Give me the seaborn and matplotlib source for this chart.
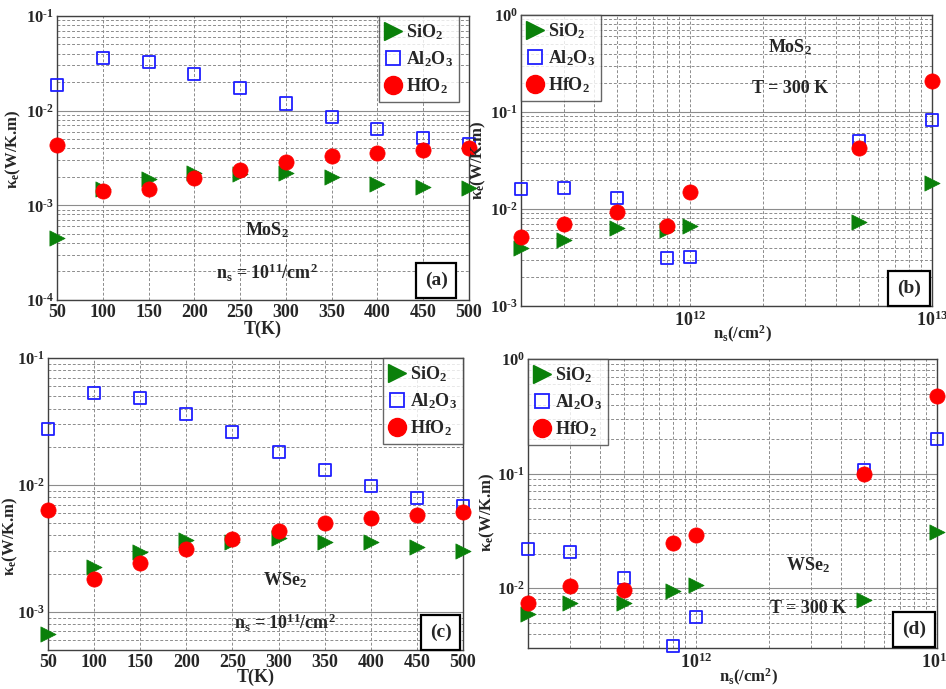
import numpy as np
import pandas as pd
import matplotlib
matplotlib.use("Agg")
import matplotlib.pyplot as plt
import seaborn as sns
from matplotlib.ticker import LogLocator, FixedLocator, NullFormatter, FuncFormatter
from matplotlib.lines import Line2D

# ---------------- data ----------------
T_K = [50, 100, 150, 200, 250, 300, 350, 400, 450, 500]
ns = [2e11, 3e11, 5e11, 8e11, 1e12, 5e12, 1e13]

# (a) MoS2 vs T, ns = 1e11
a_sio2 = [4.5e-4, 1.5e-3, 1.91e-3, 2.2e-3, 2.16e-3, 2.2e-3, 1.99e-3, 1.7e-3, 1.55e-3, 1.52e-3]
a_al2o3 = [1.85e-2, 3.57e-2, 3.24e-2, 2.44e-2, 1.73e-2, 1.19e-2, 8.6e-3, 6.45e-3, 5.2e-3, 4.45e-3]
a_hfo2 = [4.33e-3, 1.42e-3, 1.49e-3, 1.96e-3, 2.34e-3, 2.87e-3, 3.3e-3, 3.6e-3, 3.84e-3, 4.0e-3]

# (b) MoS2 vs ns, T = 300 K
b_sio2 = [4.0e-3, 4.8e-3, 6.3e-3, 6.1e-3, 6.7e-3, 7.3e-3, 1.85e-2]
b_al2o3 = [1.6e-2, 1.66e-2, 1.31e-2, 3.1e-3, 3.2e-3, 5.0e-2, 8.3e-2]
b_hfo2 = [5.1e-3, 6.95e-3, 9.3e-3, 6.6e-3, 1.5e-2, 4.3e-2, 0.21]

# (c) WSe2 vs T, ns = 1e11
c_sio2 = [6.7e-4, 2.24e-3, 2.98e-3, 3.68e-3, 3.53e-3, 3.8e-3, 3.57e-3, 3.57e-3, 3.24e-3, 3.0e-3]
c_al2o3 = [2.74e-2, 5.26e-2, 4.83e-2, 3.63e-2, 2.59e-2, 1.81e-2, 1.3e-2, 9.8e-3, 7.94e-3, 6.87e-3]
c_hfo2 = [6.35e-3, 1.81e-3, 2.42e-3, 3.1e-3, 3.77e-3, 4.36e-3, 4.98e-3, 5.52e-3, 5.83e-3, 6.09e-3]

# (d) WSe2 vs ns, T = 300 K
d_sio2 = [6.0e-3, 7.4e-3, 7.4e-3, 9.4e-3, 1.07e-2, 7.9e-3, 3.1e-2]
d_al2o3 = [2.2e-2, 2.05e-2, 1.22e-2, 3.1e-3, 5.6e-3, 0.108, 0.20]
d_hfo2 = [7.4e-3, 1.05e-2, 9.7e-3, 2.48e-2, 2.92e-2, 0.10, 0.48]

series_names = ["SiO$_2$", "Al$_2$O$_3$", "HfO$_2$"]
T_ticks = [50, 100, 150, 200, 250, 300, 350, 400, 450, 500]

# ---------------- style ----------------
sns.set_theme(style="white")
plt.rcParams["font.family"] = ["Liberation Serif", "DejaVu Serif"]
plt.rcParams["font.weight"] = "bold"
plt.rcParams["mathtext.fontset"] = "custom"
plt.rcParams["mathtext.rm"] = "Liberation Serif:bold"
plt.rcParams["mathtext.it"] = "Liberation Serif:bold"
plt.rcParams["mathtext.bf"] = "Liberation Serif:bold"
plt.rcParams["mathtext.default"] = "rm"

GREEN = "#0a800a"
BLUE = "#1f1fff"
RED = "#ff0000"
GRID = "#8c8c8c"


def pow_fmt(v, pos):
    e = int(round(np.log10(v)))
    if e < 0:
        return r"$10^{\text{-}%d}$" % (-e)
    return r"$10^{%d}$" % e


fig = plt.figure(figsize=(9.46, 6.89), dpi=100)

positions = {
    "a": [0.0603, 0.5646, 0.4355, 0.4122],
    "b": [0.5507, 0.5559, 0.4345, 0.4224],
    "c": [0.0507, 0.0566, 0.4387, 0.4238],
    "d": [0.5581, 0.0595, 0.4323, 0.4194],
}


def draw(ax, x, s1, s2, s3):
    df = pd.DataFrame({"x": x, "SiO2": s1, "Al2O3": s2, "HfO2": s3})
    sns.scatterplot(data=df, x="x", y="SiO2", marker=">", s=120, color=GREEN,
                    edgecolor=GREEN, linewidth=0.5, ax=ax, clip_on=False, zorder=4)
    sns.scatterplot(data=df, x="x", y="Al2O3", marker="s", s=75, facecolors="none",
                    edgecolor=BLUE, linewidth=1.3, ax=ax, clip_on=False, zorder=5)
    sns.scatterplot(data=df, x="x", y="HfO2", marker="o", s=120, color=RED,
                    edgecolor=RED, linewidth=0.5, ax=ax, clip_on=False, zorder=6)


def style_axes(ax, logx, ylab_x, ylab_y=0.5):
    ax.set_yscale("log")
    ax.yaxis.set_major_locator(LogLocator(base=10, numticks=10))
    ax.yaxis.set_minor_locator(LogLocator(base=10, subs=np.arange(2, 10), numticks=50))
    ax.yaxis.set_major_formatter(FuncFormatter(pow_fmt))
    ax.yaxis.set_minor_formatter(NullFormatter())
    ax.grid(True, which="major", axis="y", color=GRID, lw=0.8, ls="-")
    ax.grid(True, which="minor", axis="y", color=GRID, lw=0.7, ls=(0, (3, 2)))
    if logx:
        ax.set_xscale("log")
        ax.xaxis.set_major_locator(FixedLocator([1e12, 1e13]))
        ax.xaxis.set_minor_locator(LogLocator(base=10, subs=np.arange(2, 10), numticks=50))
        ax.xaxis.set_major_formatter(FuncFormatter(pow_fmt))
        ax.xaxis.set_minor_formatter(NullFormatter())
        ax.grid(True, which="both", axis="x", color=GRID, lw=0.7, ls=(0, (3, 2)))
    else:
        ax.set_xticks(T_ticks)
        ax.grid(True, which="major", axis="x", color=GRID, lw=0.7, ls=(0, (3, 2)))
    ax.set_axisbelow(True)
    ax.tick_params(axis="x", which="both", direction="in", labelsize=13,
                   length=3, color="#404040", pad=3)
    ax.tick_params(axis="y", which="both", direction="in", labelsize=12,
                   length=3, color="#404040", pad=2)
    ax.tick_params(which="minor", length=2)
    for sp in ax.spines.values():
        sp.set_color("#404040")
        sp.set_linewidth(1.0)
    for lab in ax.get_xticklabels() + ax.get_yticklabels():
        lab.set_fontweight("bold")
    ax.set_ylabel("κ$_e$(W/K.m)", fontsize=12, fontweight="bold")
    ax.yaxis.set_label_coords(ylab_x, ylab_y)


def legend(ax, loc, anchor):
    handles = [
        Line2D([], [], ls="none", marker=">", ms=13, color=GREEN, mec=GREEN),
        Line2D([], [], ls="none", marker="s", ms=10, mfc="none", mec=BLUE, mew=1.3),
        Line2D([], [], ls="none", marker="o", ms=13, color=RED, mec=RED),
    ]
    leg = ax.legend(handles, series_names, loc=loc, bbox_to_anchor=anchor,
                    borderaxespad=0, frameon=True, fancybox=False,
                    handlelength=0.9, handletextpad=0.25, labelspacing=0.4,
                    borderpad=0.35, prop={"weight": "bold", "size": 13})
    leg.get_frame().set_edgecolor("#404040")
    leg.get_frame().set_linewidth(1.0)
    leg.set_zorder(10)


def label_box(ax, txt, x, y):
    ax.text(x, y, txt, transform=ax.transAxes, ha="center", va="center",
            fontsize=14, fontweight="bold", zorder=11,
            bbox=dict(boxstyle="square,pad=0.45", fc="white", ec="black", lw=1.6))


# (a)
ax = fig.add_axes(positions["a"])
draw(ax, T_K, a_sio2, a_al2o3, a_hfo2)
style_axes(ax, False, -0.082, 0.53)
ax.set_xlim(50, 500)
ax.set_ylim(1e-4, 1e-1)
ax.set_xlabel("T(K)", fontsize=13, fontweight="bold", labelpad=0)
legend(ax, "upper right", (0.976, 1.0))
ax.text(0.51, 0.246, "MoS$_2$", transform=ax.transAxes, ha="center", va="center", fontsize=13)
ax.text(0.51, 0.095, "n$_s$ = 10$^{11}$/cm$^2$", transform=ax.transAxes, ha="center", va="center", fontsize=13)
label_box(ax, "(a)", 0.92, 0.07)

# (b)
ax = fig.add_axes(positions["b"])
draw(ax, ns, b_sio2, b_al2o3, b_hfo2)
style_axes(ax, True, -0.08, 0.5)
ax.set_xlim(2e11, 1e13)
ax.set_ylim(1e-3, 1e0)
ax.set_xlabel("n$_s$(/cm$^2$)", fontsize=12, fontweight="bold")
ax.xaxis.set_label_coords(0.54, -0.06)
legend(ax, "upper left", (0.0, 1.0))
ax.text(0.654, 0.89, "MoS$_2$", transform=ax.transAxes, ha="center", va="center", fontsize=13)
ax.text(0.654, 0.746, "T = 300 K", transform=ax.transAxes, ha="center", va="center", fontsize=13)
label_box(ax, "(b)", 0.944, 0.06)

# (c)
ax = fig.add_axes(positions["c"])
draw(ax, T_K, c_sio2, c_al2o3, c_hfo2)
style_axes(ax, False, -0.068, 0.39)
ax.set_xlim(50, 500)
ax.set_ylim(5e-4, 1e-1)
ax.set_xlabel("T(K)", fontsize=13, fontweight="bold", labelpad=-2)
legend(ax, "upper right", (1.0, 1.0))
ax.text(0.571, 0.24, "WSe$_2$", transform=ax.transAxes, ha="center", va="center", fontsize=13)
ax.text(0.571, 0.092, "n$_s$ = 10$^{11}$/cm$^2$", transform=ax.transAxes, ha="center", va="center", fontsize=13)
label_box(ax, "(c)", 0.946, 0.06)

# (d)
ax = fig.add_axes(positions["d"])
draw(ax, ns, d_sio2, d_al2o3, d_hfo2)
style_axes(ax, True, -0.076, 0.47)
ax.set_xlim(2e11, 1e13)
ax.set_ylim(3e-3, 1e0)
ax.set_xlabel("n$_s$(/cm$^2$)", fontsize=12, fontweight="bold")
ax.xaxis.set_label_coords(0.54, -0.065)
legend(ax, "upper left", (0.0, 1.0))
ax.text(0.685, 0.287, "WSe$_2$", transform=ax.transAxes, ha="center", va="center", fontsize=13)
ax.text(0.685, 0.138, "T = 300 K", transform=ax.transAxes, ha="center", va="center", fontsize=13)
label_box(ax, "(d)", 0.944, 0.063)

fig.savefig("out.png", dpi=100)
